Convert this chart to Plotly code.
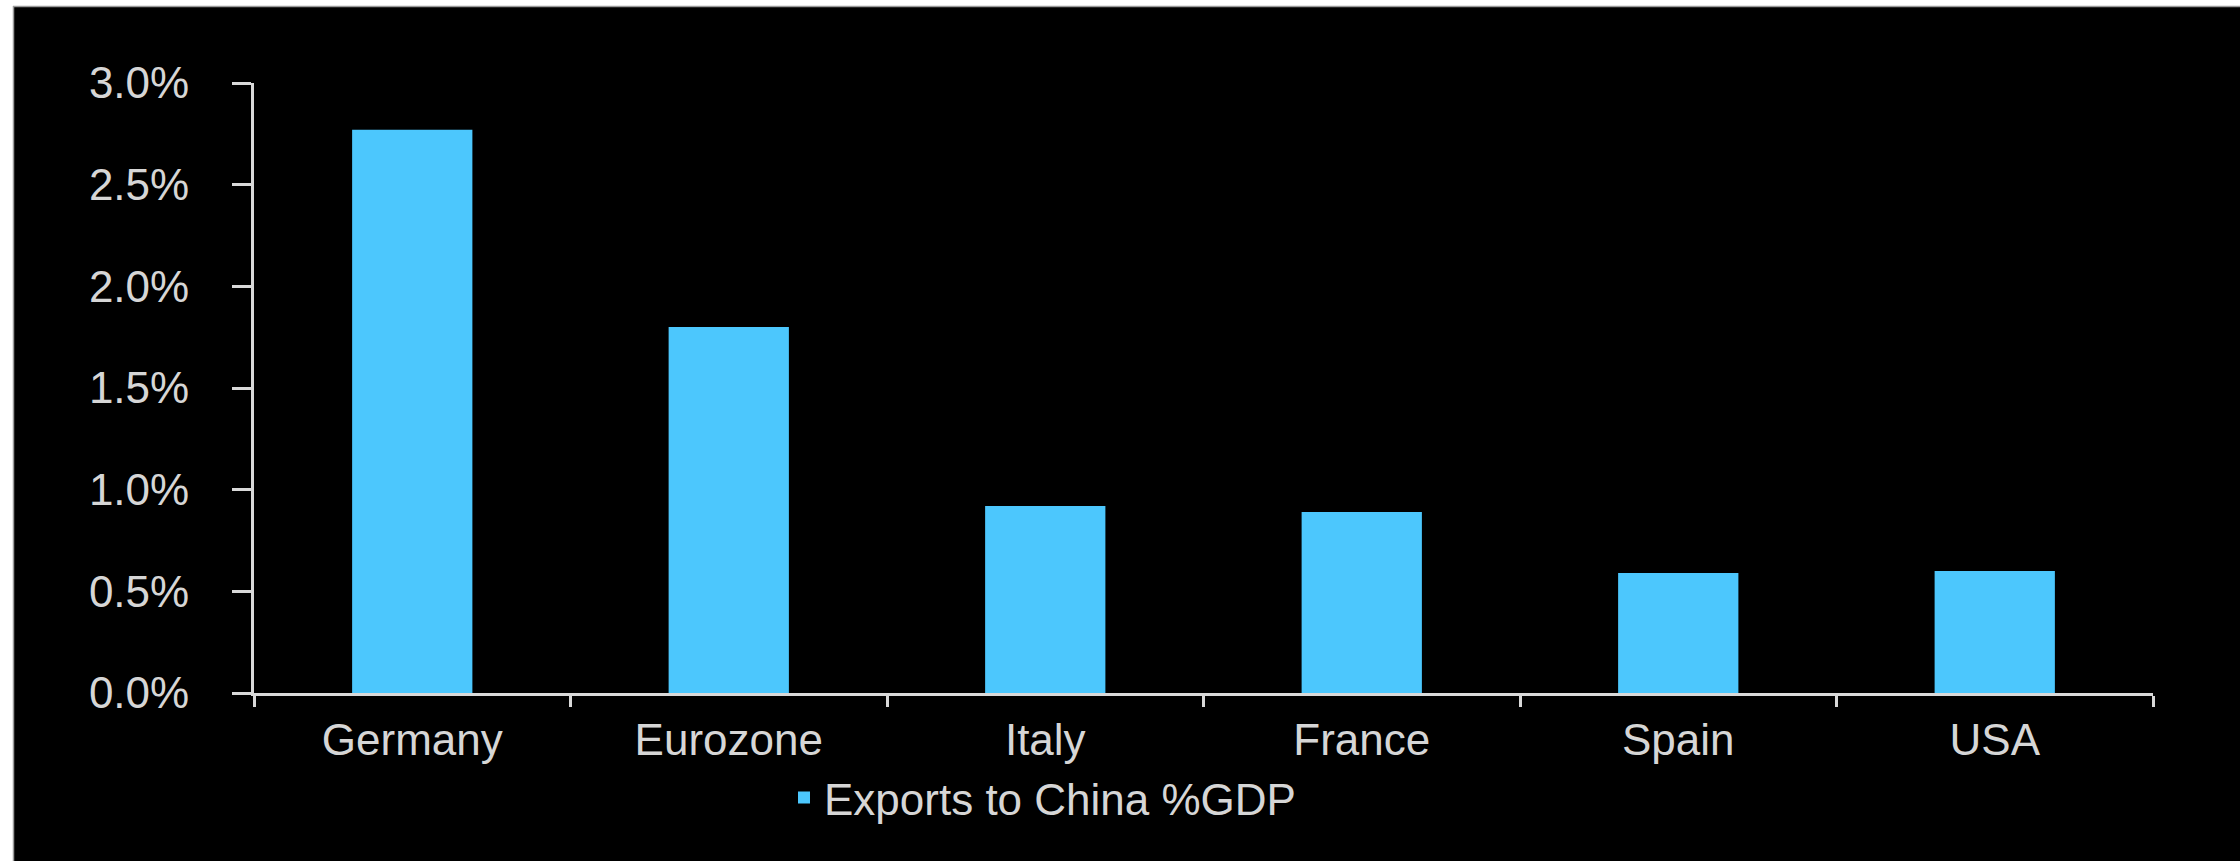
import plotly.graph_objects as go

categories = ["Germany", "Eurozone", "Italy", "France", "Spain", "USA"]
exports_to_china_pct_gdp = [2.77, 1.80, 0.92, 0.89, 0.59, 0.60]
series_name = "Exports to China %GDP"
y_ticks = [0.0, 0.5, 1.0, 1.5, 2.0, 2.5, 3.0]

W, H = 2240, 861
ML, MR, MT, MB = 254, 87, 83, 168
PW, PH = W - ML - MR, H - MT - MB

BAR = "#4cc7fd"
AXIS = "#d9d9d9"
TXT = "#d6d6d6"
FONT = "Liberation Sans, Arial, sans-serif"
FS = 44


def px_x(p):
    return (p - ML) / PW


def px_y(p):
    return (H - MB - p) / PH


fig = go.Figure(
    go.Bar(
        x=categories,
        y=exports_to_china_pct_gdp,
        name=series_name,
        marker=dict(color=BAR, line=dict(width=0)),
        showlegend=True,
    )
)

fig.update_layout(
    width=W,
    height=H,
    margin=dict(l=ML, r=MR, t=MT, b=MB, pad=0),
    paper_bgcolor="black",
    plot_bgcolor="black",
    bargap=0.62,
    font=dict(family=FONT, color=TXT, size=FS),
    showlegend=True,
    legend=dict(
        orientation="h",
        x=px_x(784),
        xanchor="left",
        y=px_y(798),
        yanchor="middle",
        font=dict(size=FS, color=TXT),
        bgcolor="rgba(0,0,0,0)",
    ),
    shapes=[
        dict(type="rect", xref="paper", yref="paper",
             x0=px_x(0), x1=px_x(13), y0=px_y(H), y1=px_y(0),
             fillcolor="white", line=dict(width=0), layer="above"),
        dict(type="rect", xref="paper", yref="paper",
             x0=px_x(0), x1=px_x(W), y0=px_y(6), y1=px_y(0),
             fillcolor="white", line=dict(width=0), layer="above"),
        dict(type="line", xref="paper", yref="paper",
             x0=px_x(13.5), x1=px_x(13.5), y0=px_y(H), y1=px_y(6),
             line=dict(color="#9a9a9a", width=1.5), layer="above"),
        dict(type="line", xref="paper", yref="paper",
             x0=px_x(13), x1=px_x(W), y0=px_y(6.5), y1=px_y(6.5),
             line=dict(color="#9a9a9a", width=1.5), layer="above"),
    ],
)

fig.update_xaxes(
    type="category",
    showline=True,
    linecolor=AXIS,
    linewidth=3,
    showgrid=False,
    zeroline=False,
    ticks="outside",
    tickson="boundaries",
    ticklen=11,
    tickwidth=3,
    tickcolor=AXIS,
    tickfont=dict(size=FS, color=TXT, family=FONT),
    ticklabelstandoff=6,
)

fig.update_yaxes(
    range=[0, 3],
    tickvals=y_ticks,
    ticktext=[f"{v:.1f}%" for v in y_ticks],
    showline=True,
    linecolor=AXIS,
    linewidth=3,
    showgrid=False,
    zeroline=False,
    ticks="outside",
    ticklen=19,
    tickwidth=3,
    tickcolor=AXIS,
    tickfont=dict(size=FS, color=TXT, family=FONT),
    ticklabelstandoff=34,
)

fig.write_html("out.html", config={"displayModeBar": False})
